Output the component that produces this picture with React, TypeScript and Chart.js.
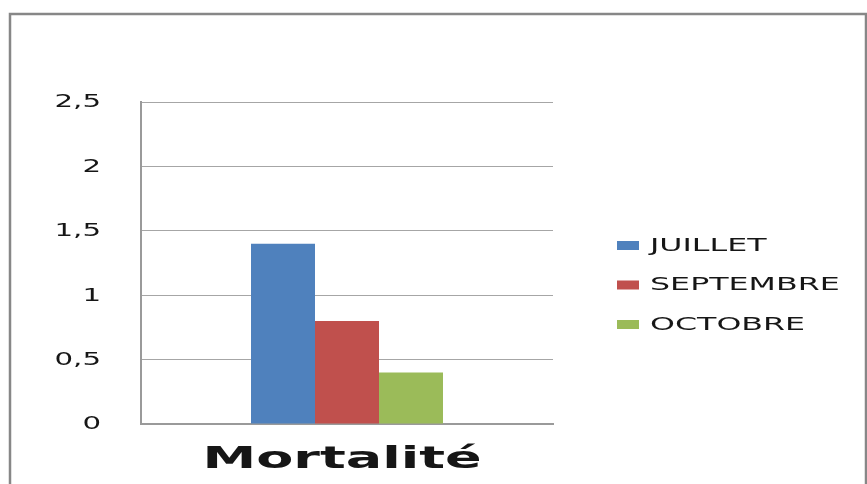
import React, { useEffect, useRef } from "react";
import { Chart, registerables } from "chart.js";

Chart.register(...registerables);

const categories = ["Mortalité"];
const seriesNames = ["JUILLET", "SEPTEMBRE", "OCTOBRE"];
const juillet = [1.4];
const septembre = [0.8];
const octobre = [0.4];
const seriesColors = ["#4F81BD", "#C0504D", "#9BBB59"];
const yTickLabels = ["0", "0,5", "1", "1,5", "2", "2,5"];

const SX = 1.72;

const textPlugin = {
  id: "stretchedText",
  beforeDraw(chart: any) {
    const ctx = chart.ctx;
    ctx.save();
    ctx.fillStyle = "#ffffff";
    ctx.fillRect(0, 0, chart.width, chart.height);
    ctx.strokeStyle = "#878787";
    ctx.lineWidth = 2.5;
    ctx.strokeRect(10, 14, 856, 480);
    ctx.restore();
  },
  afterDraw(chart: any) {
    const ctx = chart.ctx;
    const y = chart.scales.y;
    const x = chart.scales.x;
    const area = chart.chartArea;
    const drawText = (t: string, px: number, py: number, font: string, align: CanvasTextAlign, baseline: CanvasTextBaseline, sx: number) => {
      ctx.save();
      ctx.translate(px, py);
      ctx.scale(sx, 1);
      ctx.font = font;
      ctx.textAlign = align;
      ctx.textBaseline = baseline;
      ctx.fillStyle = "#161616";
      ctx.fillText(t, 0, 0);
      ctx.restore();
    };
    // y tick labels
    y.ticks.forEach((tk: any, i: number) => {
      const py = y.getPixelForValue(tk.value);
      const label = yTickLabels[i] ?? String(tk.value);
      drawText(label, area.left - 40, py + 1, "17px 'DejaVu Sans'", "right", "middle", SX);
    });
    // category label
    chart.data.labels.forEach((lab: string, i: number) => {
      const px = x.getPixelForValue(i);
      drawText(lab, px - 5, area.bottom + 44, "bold 30px 'DejaVu Sans'", "center", "alphabetic", 1.8);
    });
    // legend
    const legX = area.right + 64;
    const legY0 = area.top + 143;
    chart.data.datasets.forEach((ds: any, i: number) => {
      const cy = legY0 + i * 39.5;
      ctx.save();
      ctx.fillStyle = ds.backgroundColor;
      ctx.fillRect(legX, cy - 4, 22, 9);
      ctx.restore();
      drawText(ds.label, legX + 33, cy + 1, "18px 'DejaVu Sans'", "left", "middle", 1.76);
    });
  },
};

export default function App() {
  const ref = useRef<HTMLCanvasElement>(null);
  useEffect(() => {
    if (!ref.current) return;
    const chart = new Chart(ref.current, {
      type: "bar",
      data: {
        labels: categories,
        datasets: [
          { label: seriesNames[0], data: juillet, backgroundColor: seriesColors[0] },
          { label: seriesNames[1], data: septembre, backgroundColor: seriesColors[1] },
          { label: seriesNames[2], data: octobre, backgroundColor: seriesColors[2] },
        ],
      },
      options: {
        animation: false,
        responsive: false,
        devicePixelRatio: 1,
        layout: { padding: { left: 141, right: 314, top: 102, bottom: 60 } },
        datasets: {
          bar: { categoryPercentage: 0.466, barPercentage: 1, borderWidth: 0 },
        },
        plugins: { legend: { display: false }, tooltip: { enabled: false } },
        scales: {
          x: {
            ticks: { display: false },
            grid: { display: false, drawTicks: false },
            border: { display: true, color: "#9a9a9a", width: 2 },
          },
          y: {
            min: 0,
            max: 2.5,
            ticks: { display: false, stepSize: 0.5 },
            grid: { color: "#a6a6a6", lineWidth: 1, drawTicks: false },
            border: { display: true, color: "#9a9a9a", width: 2 },
          },
        },
      },
      plugins: [textPlugin],
    });
    return () => chart.destroy();
  }, []);
  return (
    <div style={{ position: "absolute", left: 0, top: 0, width: 867, height: 484, background: "#fff" }}>
      <canvas ref={ref} width={867} height={484} style={{ display: "block" }} />
    </div>
  );
}
